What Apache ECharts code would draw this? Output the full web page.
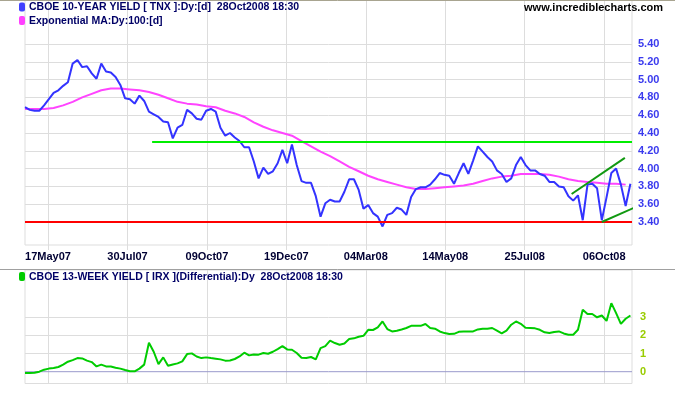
<!DOCTYPE html>
<html><head><meta charset="utf-8">
<script src="https://cdn.jsdelivr.net/npm/echarts@6/dist/echarts.min.js"></script>
<style>html,body{margin:0;padding:0;background:#fff}#c{width:675px;height:395px}</style>
</head><body><div id="c"></div>
<script>
// ---- data (x = trading-day bar number from the left edge) ----
const dateLabels = ['17May07','30Jul07','09Oct07','19Dec07','04Mar08','14May08','25Jul08','06Oct08'];
const dateLabelBars = [14.5,64.5,114.5,164.5,214.5,264.5,314.5,364.5];
const tnxTicks = [3.40,3.60,3.80,4.00,4.20,4.40,4.60,4.80,5.00,5.20,5.40];
const irxTicks = [0,1,2,3];

const tnxStep = 3; // bars between readings
const tnx = [4.69,4.66,4.65,4.65,4.71,4.78,4.85,4.88,4.93,4.97,
5.18,5.22,5.14,5.15,5.07,5.01,5.18,5.09,5.08,5.03,
4.94,4.79,4.78,4.73,4.82,4.76,4.64,4.61,4.58,4.53,
4.52,4.34,4.46,4.49,4.66,4.62,4.56,4.55,4.65,4.67,
4.64,4.46,4.37,4.40,4.35,4.31,4.24,4.24,4.08,3.89,
4.01,3.94,3.97,4.06,4.21,4.06,4.27,4.04,3.86,3.84,
3.84,3.69,3.46,3.61,3.65,3.63,3.63,3.74,3.88,3.88,
3.76,3.55,3.59,3.50,3.46,3.35,3.48,3.50,3.56,3.54,
3.48,3.68,3.77,3.79,3.79,3.82,3.88,3.95,3.93,3.92,
3.83,3.95,4.06,3.94,4.09,4.25,4.19,4.13,4.08,3.98,
3.94,3.85,3.89,4.04,4.13,4.04,3.98,3.98,3.94,3.92,
3.85,3.85,3.80,3.79,3.69,3.64,3.70,3.42,3.82,3.83,
3.78,3.42,3.68,3.95,4.00,3.82,3.58,3.83];

const emaStep = 6;
const ema100 = [4.67,4.67,4.67,4.68,4.71,4.75,4.80,4.84,4.88,4.90,
4.90,4.89,4.88,4.86,4.83,4.79,4.75,4.73,4.72,4.70,
4.69,4.65,4.62,4.58,4.52,4.47,4.43,4.40,4.37,4.31,
4.25,4.19,4.14,4.08,4.02,3.97,3.92,3.88,3.85,3.82,
3.79,3.77,3.77,3.78,3.79,3.80,3.81,3.83,3.86,3.89,
3.91,3.92,3.94,3.94,3.94,3.93,3.91,3.88,3.86,3.85,
3.84,3.83,3.83,3.82];

const irxStep = 3;
const irxDiff = [-0.07,-0.07,-0.06,0.00,0.11,0.17,0.20,0.26,0.39,0.55,
0.64,0.75,0.73,0.61,0.53,0.29,0.39,0.29,0.29,0.22,
0.17,0.09,0.02,0.02,0.17,0.39,1.60,1.10,0.42,0.79,
0.33,0.40,0.46,0.57,0.97,1.01,0.84,0.75,0.79,0.75,
0.72,0.68,0.61,0.62,0.70,0.84,1.05,0.90,0.95,0.94,
1.03,0.99,1.10,1.25,1.41,1.23,1.21,1.03,0.77,0.75,
0.81,0.68,1.30,1.41,1.71,1.58,1.49,1.56,1.80,1.84,
1.93,1.98,2.31,2.30,2.44,2.77,2.35,2.22,2.26,2.33,
2.41,2.53,2.53,2.53,2.63,2.41,2.37,2.22,2.13,2.08,
2.09,2.20,2.22,2.22,2.22,2.33,2.37,2.37,2.41,2.26,
2.11,2.26,2.59,2.77,2.64,2.42,2.41,2.39,2.31,2.17,
2.13,2.19,2.22,2.11,2.04,2.04,2.31,3.42,3.18,3.18,
3.00,3.10,2.80,3.78,3.23,2.64,2.92,3.10];

const supportLine = [[0,3.40],[382,3.40]];
const resistanceLine = [[80,4.30],[382,4.30]];
const upperTrend = [[344,3.715],[377.5,4.12]];
const lowerTrend = [[363,3.40],[384,3.565]];

// ---- chart ----
const FONT = "'Liberation Sans', Arial, sans-serif";
const LEGEND_FONT = "bold 10.5px 'Liberation Sans', Arial, sans-serif";
const GRID_C = '#dddddd';
const pairs = (arr, step) => arr.map((v, i) => [i * step, v]);
const labelFor = v => { const i = dateLabelBars.findIndex(b => Math.abs(b - v) < 0.01); return i >= 0 ? dateLabels[i] : ''; };
const gridMarks = (xs, ys) => ({
  silent: true, z: 1, symbol: ['none','none'], label: {show:false},
  lineStyle: {color: GRID_C, width: 1, type: 'solid'}, emphasis: {disabled: true},
  data: [...xs.map(b => ({xAxis: b})), ...ys.map(v => ({yAxis: v}))]
});

const chart = echarts.init(document.getElementById('c'), null, {renderer: 'canvas', width: 675, height: 395});
const option = {
  animation: false,
  backgroundColor: '#ffffff',
  grid: [
    {left: 25, right: 43, top: 0, height: 245, show: true, borderColor: GRID_C, borderWidth: 1, backgroundColor: 'transparent'},
    {left: 25, right: 43, top: 270, height: 113.5, show: true, borderColor: GRID_C, borderWidth: 1, backgroundColor: 'transparent'}
  ],
  xAxis: [
    {type: 'value', gridIndex: 0, min: 0, max: 382, axisLine: {show: false}, splitLine: {show: false},
     axisTick: {show: true, customValues: dateLabelBars, length: 5, lineStyle: {color: GRID_C}},
     axisLabel: {customValues: dateLabelBars, formatter: labelFor, margin: 6, color: '#000033',
                 fontFamily: FONT, fontSize: 11, fontWeight: 'bold'}},
    {type: 'value', gridIndex: 1, min: 0, max: 382, axisLine: {show: false}, splitLine: {show: false},
     axisTick: {show: true, customValues: dateLabelBars, length: 4, lineStyle: {color: GRID_C}},
     axisLabel: {show: false}}
  ],
  yAxis: [
    {type: 'value', gridIndex: 0, position: 'right', min: 3.1416, max: 5.8944,
     axisLine: {show: false}, axisTick: {show: false}, splitLine: {show: false},
     axisLabel: {customValues: tnxTicks, formatter: v => v.toFixed(2), margin: 6, color: '#3a3aee',
                 fontFamily: FONT, fontSize: 11, fontWeight: 'bold'}},
    {type: 'value', gridIndex: 1, position: 'right', min: -0.651, max: 5.609,
     axisLine: {show: false}, axisTick: {show: false}, splitLine: {show: false},
     axisLabel: {customValues: irxTicks, formatter: v => String(v), margin: 8, color: '#99cc00',
                 fontFamily: FONT, fontSize: 11, fontWeight: 'bold'}}
  ],
  series: [
    {name: 'EMA100', type: 'line', xAxisIndex: 0, yAxisIndex: 0, data: pairs(ema100, emaStep),
     showSymbol: false, symbol: 'none', z: 2, lineStyle: {color: '#ff44ff', width: 2},
     markLine: gridMarks(dateLabelBars, tnxTicks)},
    {name: 'TNX', type: 'line', xAxisIndex: 0, yAxisIndex: 0, data: pairs(tnx, tnxStep),
     showSymbol: false, symbol: 'none', z: 3, lineStyle: {color: '#3333ff', width: 2}},
    {name: 'Support', type: 'line', xAxisIndex: 0, yAxisIndex: 0, data: supportLine,
     showSymbol: false, symbol: 'none', z: 4, lineStyle: {color: '#ff0000', width: 2}},
    {name: 'Resistance', type: 'line', xAxisIndex: 0, yAxisIndex: 0, data: resistanceLine,
     showSymbol: false, symbol: 'none', z: 4, lineStyle: {color: '#00ee00', width: 2}},
    {name: 'Upper', type: 'line', xAxisIndex: 0, yAxisIndex: 0, data: upperTrend, clip: false,
     showSymbol: false, symbol: 'none', z: 4, lineStyle: {color: '#119911', width: 2}},
    {name: 'Lower', type: 'line', xAxisIndex: 0, yAxisIndex: 0, data: lowerTrend, clip: false,
     showSymbol: false, symbol: 'none', z: 4, lineStyle: {color: '#119911', width: 2}},
    {name: 'IRX', type: 'line', xAxisIndex: 1, yAxisIndex: 1, data: pairs(irxDiff, irxStep),
     showSymbol: false, symbol: 'none', z: 3, lineStyle: {color: '#00cc00', width: 2},
     markLine: gridMarks(dateLabelBars, [1, 2, 3])},
    {name: 'Zero', type: 'line', xAxisIndex: 1, yAxisIndex: 1, data: [[0, 0], [382, 0]],
     showSymbol: false, symbol: 'none', z: 2, lineStyle: {color: '#9999cc', width: 1}}
  ],
  graphic: [
    {type: 'line', shape: {x1: 0, y1: 0.5, x2: 675, y2: 0.5}, style: {stroke: '#a8a490', lineWidth: 1}, z: 10},
    {type: 'line', shape: {x1: 0, y1: 269.5, x2: 675, y2: 269.5}, style: {stroke: '#a0a0a0', lineWidth: 1}, z: 10},
    {type: 'rect', shape: {x: 19, y: 2.5, width: 6, height: 9, r: 2}, style: {fill: '#4040ff'}, z: 10},
    {type: 'text', x: 29, y: 7, style: {text: 'CBOE 10-YEAR YIELD [ TNX ]:Dy:[d]  28Oct2008 18:30', fill: '#000066',
      font: LEGEND_FONT, textVerticalAlign: 'middle'}, z: 10},
    {type: 'rect', shape: {x: 19, y: 16, width: 6, height: 9, r: 2}, style: {fill: '#ff40ff'}, z: 10},
    {type: 'text', x: 29, y: 21, style: {text: 'Exponential MA:Dy:100:[d]', fill: '#000066',
      font: LEGEND_FONT, textVerticalAlign: 'middle'}, z: 10},
    {type: 'text', x: 663, y: 8, style: {text: 'www.incrediblecharts.com', fill: '#000000', textAlign: 'right',
      font: "bold 11px 'Liberation Sans', Arial, sans-serif", textVerticalAlign: 'middle'}, z: 10},
    {type: 'rect', shape: {x: 19, y: 272, width: 6, height: 9, r: 2}, style: {fill: '#00cc00'}, z: 10},
    {type: 'text', x: 29, y: 277, style: {text: 'CBOE 13-WEEK YIELD [ IRX ](Differential):Dy  28Oct2008 18:30', fill: '#000066',
      font: LEGEND_FONT, textVerticalAlign: 'middle'}, z: 10}
  ]
};
chart.setOption(option);
</script>
</body></html>
